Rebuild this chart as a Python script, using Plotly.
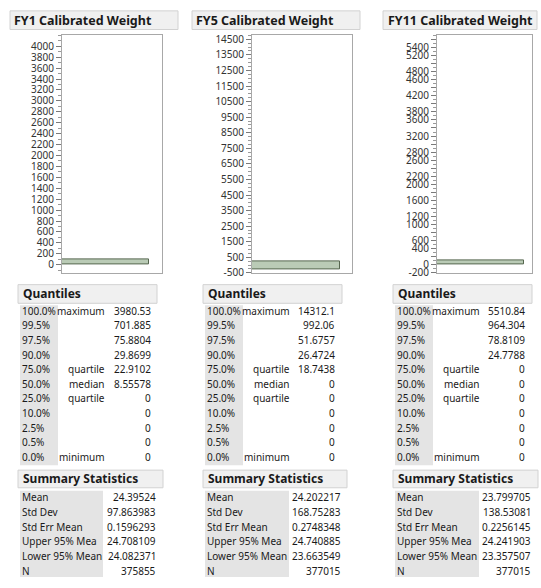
import plotly.graph_objects as go

# ---------------- data ----------------
titles = ["FY1 Calibrated Weight", "FY5 Calibrated Weight", "FY11 Calibrated Weight"]

# histogram: the single visible bin of each panel (low edge, high edge, count)
bin_lo = [0, -250, 0]
bin_hi = [100, 250, 100]
bin_count = [368000, 372000, 370000]

fy1_ticks = list(range(0, 4001, 200))
fy5_ticks = list(range(-500, 14501, 1000))
fy11_ticks = list(range(-200, 5601, 200))
fy11_labelled = [5400, 5200, 4800, 4600, 4200, 3800, 3600, 3200, 2800, 2600,
                 2200, 2000, 1600, 1200, 1000, 600, 400, 0, -200]

quantile_pcts = ["100.0%", "99.5%", "97.5%", "90.0%", "75.0%", "50.0%",
                 "25.0%", "10.0%", "2.5%", "0.5%", "0.0%"]
quantile_names = ["maximum", "", "", "", "quartile", "median", "quartile",
                  "", "", "", "minimum"]
fy1_quantiles = [3980.53, 701.885, 75.8804, 29.8699, 22.9102, 8.55578, 0, 0, 0, 0, 0]
fy5_quantiles = [14312.1, 992.06, 51.6757, 26.4724, 18.7438, 0, 0, 0, 0, 0, 0]
fy11_quantiles = [5510.84, 964.304, 78.8109, 24.7788, 0, 0, 0, 0, 0, 0, 0]

summary_labels = ["Mean", "Std Dev", "Std Err Mean", "Upper 95% Mea",
                  "Lower 95% Mean", "N"]
fy1_summary = [24.39524, 97.863983, 0.1596293, 24.708109, 24.082371, 375855]
fy5_summary = [24.202217, 168.75283, 0.2748348, 24.740885, 23.663549, 377015]
fy11_summary = [23.799705, 138.53081, 0.2256145, 24.241903, 23.357507, 377015]

# ---------------- layout geometry (pixels) ----------------
W, H = 541, 588
def px(x):
    return x / W
def py(y):
    return 1 - y / H

panels = [
    dict(title_box=(10, 178), title_x=12,
         frame=(62, 162), yrange=[-150, 4200], xfrac=0.873,
         ticks=fy1_ticks, ticktext=[str(t) for t in fy1_ticks], minor=100,
         q_box=(18, 157), q_gray=(20, 58), q_mid_r=107, q_val_r=153,
         s_box=(18, 163), s_gray=(20, 103), s_val_r=158,
         quant=fy1_quantiles, summ=fy1_summary),
    dict(title_box=(192, 360), title_x=194,
         frame=(252, 352), yrange=[-500, 14750], xfrac=0.878,
         ticks=fy5_ticks, ticktext=[str(t) for t in fy5_ticks], minor=250,
         q_box=(203, 342), q_gray=(205, 243), q_mid_r=292, q_val_r=337,
         s_box=(203, 347), s_gray=(205, 289), s_val_r=343,
         quant=fy5_quantiles, summ=fy5_summary),
    dict(title_box=(383, 537), title_x=386,
         frame=(437, 532), yrange=[-200, 5700], xfrac=0.92,
         ticks=fy11_ticks,
         ticktext=[str(t) if t in fy11_labelled else "" for t in fy11_ticks], minor=100,
         q_box=(393, 532), q_gray=(395, 433), q_mid_r=482, q_val_r=527,
         s_box=(393, 538), s_gray=(395, 479), s_val_r=533,
         quant=fy11_quantiles, summ=fy11_summary),
]

FRAME_TOP, FRAME_BOT = 32, 274
TITLE_Y = (7, 26)
Q_HDR_Y = (286, 305)
Q_ROWS_Y0, Q_ROW_H = 312.5, 14.9
Q_GRAY_Y = (307, 470)
S_HDR_Y = (475, 493)
S_ROWS_Y0, S_ROW_H = 502.7, 15.0
S_GRAY_Y = (496, 584)

FONT = "Noto Sans"
TXT = "#1a1a1a"
HDR_FILL = "#f0f0f0"
HDR_LINE = "#d2d2d2"
GRAY_FILL = "#e4e4e4"
BAR_FILL = "#bacbb6"
BAR_LINE = "#56664f"

fig = go.Figure()
shapes = []
annotations = []

for i, p in enumerate(panels):
    k = "" if i == 0 else str(i + 1)
    # histogram bar
    lo, hi, cnt = bin_lo[i], bin_hi[i], bin_count[i]
    fig.add_trace(go.Bar(
        x=[cnt], y=[(lo + hi) / 2], width=[hi - lo], orientation="h",
        marker=dict(color=BAR_FILL, line=dict(color=BAR_LINE, width=1)),
        xaxis="x" + k, yaxis="y" + k, showlegend=False, hoverinfo="skip"))
    fx0, fx1 = p["frame"]
    fig.update_layout(**{
        "xaxis" + k: dict(domain=[px(fx0), px(fx1)], anchor="y" + k,
                          range=[0, cnt / p["xfrac"]], showgrid=False,
                          zeroline=False, showticklabels=False, ticks="",
                          showline=True, mirror=True, linecolor="#a8a8a8",
                          linewidth=1, fixedrange=True),
        "yaxis" + k: dict(domain=[py(FRAME_BOT), py(FRAME_TOP)], anchor="x" + k,
                          range=p["yrange"], showgrid=False, zeroline=False,
                          tickmode="array", tickvals=p["ticks"], ticktext=p["ticktext"],
                          ticks="outside", ticklen=5, tickcolor="#7a7a7a", tickwidth=1,
                          minor=dict(dtick=p["minor"], ticks="outside", ticklen=3,
                                     tickcolor="#9a9a9a", showgrid=False),
                          showline=True, mirror=True, linecolor="#a8a8a8", linewidth=1,
                          tickfont=dict(family=FONT, size=10, color="#333333"),
                          fixedrange=True),
    })

    # title box
    tx0, tx1 = p["title_box"]
    shapes.append(dict(type="rect", xref="paper", yref="paper",
                       x0=px(tx0), x1=px(tx1), y0=py(TITLE_Y[1]), y1=py(TITLE_Y[0]),
                       fillcolor=HDR_FILL, line=dict(color=HDR_LINE, width=1), layer="below"))
    annotations.append(dict(xref="paper", yref="paper", x=px(p["title_x"]),
                            y=py((TITLE_Y[0] + TITLE_Y[1]) / 2), xanchor="left", yanchor="middle",
                            text="<b>" + titles[i] + "</b>", showarrow=False,
                            font=dict(family=FONT, size=12.5, color=TXT)))

    # Quantiles header
    qx0, qx1 = p["q_box"]
    shapes.append(dict(type="rect", xref="paper", yref="paper",
                       x0=px(qx0), x1=px(qx1), y0=py(Q_HDR_Y[1]), y1=py(Q_HDR_Y[0]),
                       fillcolor=HDR_FILL, line=dict(color=HDR_LINE, width=1), layer="below"))
    annotations.append(dict(xref="paper", yref="paper", x=px(qx0 + 3),
                            y=py((Q_HDR_Y[0] + Q_HDR_Y[1]) / 2), xanchor="left", yanchor="middle",
                            text="<b>Quantiles</b>", showarrow=False,
                            font=dict(family=FONT, size=12, color=TXT)))
    gx0, gx1 = p["q_gray"]
    shapes.append(dict(type="rect", xref="paper", yref="paper",
                       x0=px(gx0), x1=px(gx1), y0=py(Q_GRAY_Y[1]), y1=py(Q_GRAY_Y[0]),
                       fillcolor=GRAY_FILL, line=dict(width=0), layer="below"))
    for r in range(len(quantile_pcts)):
        yy = py(Q_ROWS_Y0 + r * Q_ROW_H)
        annotations.append(dict(xref="paper", yref="paper", x=px(gx0), y=yy,
                                xanchor="left", yanchor="middle", text=quantile_pcts[r],
                                showarrow=False, font=dict(family=FONT, size=10, color=TXT)))
        if quantile_names[r]:
            annotations.append(dict(xref="paper", yref="paper", x=px(p["q_mid_r"]), y=yy,
                                    xanchor="right", yanchor="middle", text=quantile_names[r],
                                    showarrow=False, font=dict(family=FONT, size=10, color=TXT)))
        annotations.append(dict(xref="paper", yref="paper", x=px(p["q_val_r"]), y=yy,
                                xanchor="right", yanchor="middle", text=f"{p['quant'][r]:.6g}",
                                showarrow=False, font=dict(family=FONT, size=10, color=TXT)))

    # Summary Statistics header
    sx0, sx1 = p["s_box"]
    shapes.append(dict(type="rect", xref="paper", yref="paper",
                       x0=px(sx0), x1=px(sx1), y0=py(S_HDR_Y[1]), y1=py(S_HDR_Y[0]),
                       fillcolor=HDR_FILL, line=dict(color=HDR_LINE, width=1), layer="below"))
    annotations.append(dict(xref="paper", yref="paper", x=px(sx0 + 3),
                            y=py((S_HDR_Y[0] + S_HDR_Y[1]) / 2), xanchor="left", yanchor="middle",
                            text="<b>Summary Statistics</b>", showarrow=False,
                            font=dict(family=FONT, size=12, color=TXT)))
    gx0, gx1 = p["s_gray"]
    shapes.append(dict(type="rect", xref="paper", yref="paper",
                       x0=px(gx0), x1=px(gx1), y0=py(S_GRAY_Y[1]), y1=py(S_GRAY_Y[0]),
                       fillcolor=GRAY_FILL, line=dict(width=0), layer="below"))
    for r in range(len(summary_labels)):
        yy = py(S_ROWS_Y0 + r * S_ROW_H)
        annotations.append(dict(xref="paper", yref="paper", x=px(gx0), y=yy,
                                xanchor="left", yanchor="middle", text=summary_labels[r],
                                showarrow=False, font=dict(family=FONT, size=10, color=TXT)))
        annotations.append(dict(xref="paper", yref="paper", x=px(p["s_val_r"]), y=yy,
                                xanchor="right", yanchor="middle", text=str(p["summ"][r]),
                                showarrow=False, font=dict(family=FONT, size=10, color=TXT)))

fig.update_layout(width=W, height=H, margin=dict(l=0, r=0, t=0, b=0),
                  paper_bgcolor="white", plot_bgcolor="white",
                  shapes=shapes, annotations=annotations, bargap=0, showlegend=False)

fig.write_html("out.html", config={"displayModeBar": False},
               post_script="document.body.style.margin='0';document.body.style.padding='0';"
                           "document.body.style.overflow='hidden';")
